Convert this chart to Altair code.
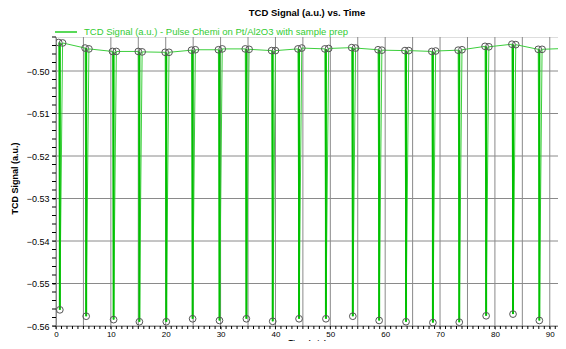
import altair as alt
import pandas as pd
import numpy as np

# Pulse data (time in min, TCD signal in a.u.)
start_t = [0.5, 5.3, 10.3, 15.0, 19.9, 24.7, 29.6, 34.5, 39.3, 44.1,
           49.0, 53.9, 58.7, 63.6, 68.5, 73.3, 78.2, 83.1, 87.9, 92.7]
start_v = [-0.4933, -0.4946, -0.4954, -0.4954, -0.4956, -0.4951, -0.4950, -0.4948, -0.4952, -0.4948,
           -0.4948, -0.4945, -0.4950, -0.4952, -0.4954, -0.4951, -0.4942, -0.4937, -0.4949, -0.4947]
drop_t = [0.7, 5.5, 10.5, 15.2, 20.1, 24.9, 29.8, 34.7, 39.5, 44.3,
          49.2, 54.1, 58.9, 63.8, 68.7, 73.5, 78.4, 83.3, 88.1, 92.9]
min_v = [-0.5562, -0.5577, -0.5585, -0.5590, -0.5590, -0.5583, -0.5587, -0.5583, -0.5589, -0.5583,
         -0.5583, -0.5577, -0.5587, -0.5590, -0.5592, -0.5591, -0.5576, -0.5572, -0.5587, -0.5590]
end_t = [1.2, 6.0, 11.0, 15.7, 20.6, 25.4, 30.3, 35.2, 40.0, 44.8,
         49.7, 54.6, 59.4, 64.3, 69.2, 74.0, 78.9, 83.8, 88.6, 93.4]
end_v = [-0.4934, -0.4948, -0.4954, -0.4955, -0.4956, -0.4950, -0.4948, -0.4949, -0.4952, -0.4946,
         -0.4947, -0.4946, -0.4951, -0.4952, -0.4953, -0.4950, -0.4943, -0.4938, -0.4949, -0.4947]

series_name = "TCD Signal (a.u.) - Pulse Chemi on Pt/Al2O3 with sample prep"
x_major = [0, 5, 10, 15, 20, 25, 30, 35, 40, 45, 50, 55, 60, 65, 70, 75, 80, 85, 90]
y_major = [-0.56, -0.55, -0.54, -0.53, -0.52, -0.51, -0.50]

times, sigs = [], []
for i in range(len(drop_t)):
    times += [start_t[i], drop_t[i], end_t[i]]
    sigs += [start_v[i], min_v[i], end_v[i]]
df = pd.DataFrame({"time": times, "signal": sigs, "order": list(range(len(times)))})
drops = pd.DataFrame({"time": drop_t, "top": start_v, "bottom": min_v})

X_MAX = 91.5
W, H = 502, 289
x_minor = list(range(0, 92))
y_minor = [round(v, 3) for v in np.arange(-0.56, -0.4915, 0.002)]

FONT = "Liberation Sans"
GRID = "#8a8a8a"

xs = alt.Scale(domain=[0, X_MAX], nice=False, zero=False)
ys = alt.Scale(domain=[-0.56, -0.492], nice=False, zero=False)

x_enc = alt.X(
    "time:Q",
    title="Time (min)",
    scale=xs,
    axis=alt.Axis(
        values=x_major,
        labelFlush=False,
        grid=False,
        tickSize=3,
        labelFontSize=8,
        labelPadding=1,
        titleFontSize=7.5,
        titleFontWeight="bold",
        titlePadding=0,
    ),
)
y_enc = alt.Y(
    "signal:Q",
    title="TCD Signal (a.u.)",
    scale=ys,
    axis=alt.Axis(
        values=y_major,
        format=".2f",
        labelFlush=False,
        grid=False,
        tickSize=4,
        labelFontSize=9,
        labelPadding=3,
        titleFontSize=9,
        titleFontWeight="bold",
        titleX=-37,
        titleY=141,
    ),
)

vgrid = alt.Chart(pd.DataFrame({"t": x_major})).mark_rule(color=GRID, strokeWidth=1).encode(
    x=alt.X("t:Q", scale=xs))
hgrid = alt.Chart(pd.DataFrame({"v": y_major})).mark_rule(color=GRID, strokeWidth=1).encode(
    y=alt.Y("v:Q", scale=ys))
xminor = alt.Chart(pd.DataFrame({"t": x_minor})).mark_rule(color="#000000", strokeWidth=1).encode(
    x=alt.X("t:Q", scale=xs), y=alt.value(H), y2=alt.value(H + 3))
yminor = alt.Chart(pd.DataFrame({"v": y_minor})).mark_rule(color="#000000", strokeWidth=1).encode(
    y=alt.Y("v:Q", scale=ys), x=alt.value(-4), x2=alt.value(0))

base = alt.Chart(df).encode(x=x_enc, y=y_enc)
line = base.mark_line(color="#3ccf3c", strokeWidth=1, clip=True).encode(order="order:Q")
drop_rules = alt.Chart(drops).mark_rule(color="#00c000", strokeWidth=2, clip=True).encode(
    x=alt.X("time:Q", scale=xs), y=alt.Y("top:Q", scale=ys), y2="bottom:Q")
pts = base.mark_point(shape="circle", size=45, filled=False, stroke="#555555",
                      strokeWidth=1, opacity=1, clip=True)

leg_df = pd.DataFrame({"label": [series_name]})
leg_rule = alt.Chart(leg_df).mark_rule(color="#22cc22", strokeWidth=1.5).encode(
    x=alt.value(-1), x2=alt.value(21), y=alt.value(-5))
leg_text = alt.Chart(leg_df).mark_text(align="left", baseline="middle", color="#33cc33",
                                       fontSize=9.5, font=FONT).encode(
    x=alt.value(28), y=alt.value(-5), text="label:N")

chart = alt.layer(vgrid, hgrid, line, drop_rules, pts, xminor, yminor, leg_rule, leg_text).properties(
    width=W,
    height=H,
    title=alt.TitleParams("TCD Signal (a.u.) vs. Time", fontSize=9.5, fontWeight="bold",
                          font=FONT, anchor="middle", frame="group", offset=10),
    autosize=alt.AutoSizeParams(type="none"),
    padding={"left": 48, "top": 29, "right": 0, "bottom": 333 - 29 - H},
).configure_view(stroke="#888888").configure_axis(
    labelFont=FONT, titleFont=FONT, domainColor="#000000", tickColor="#000000",
    labelColor="#111111", titleColor="#111111",
).configure(background="white")

chart.save("out.html", embed_options={"renderer": "svg", "actions": False})
